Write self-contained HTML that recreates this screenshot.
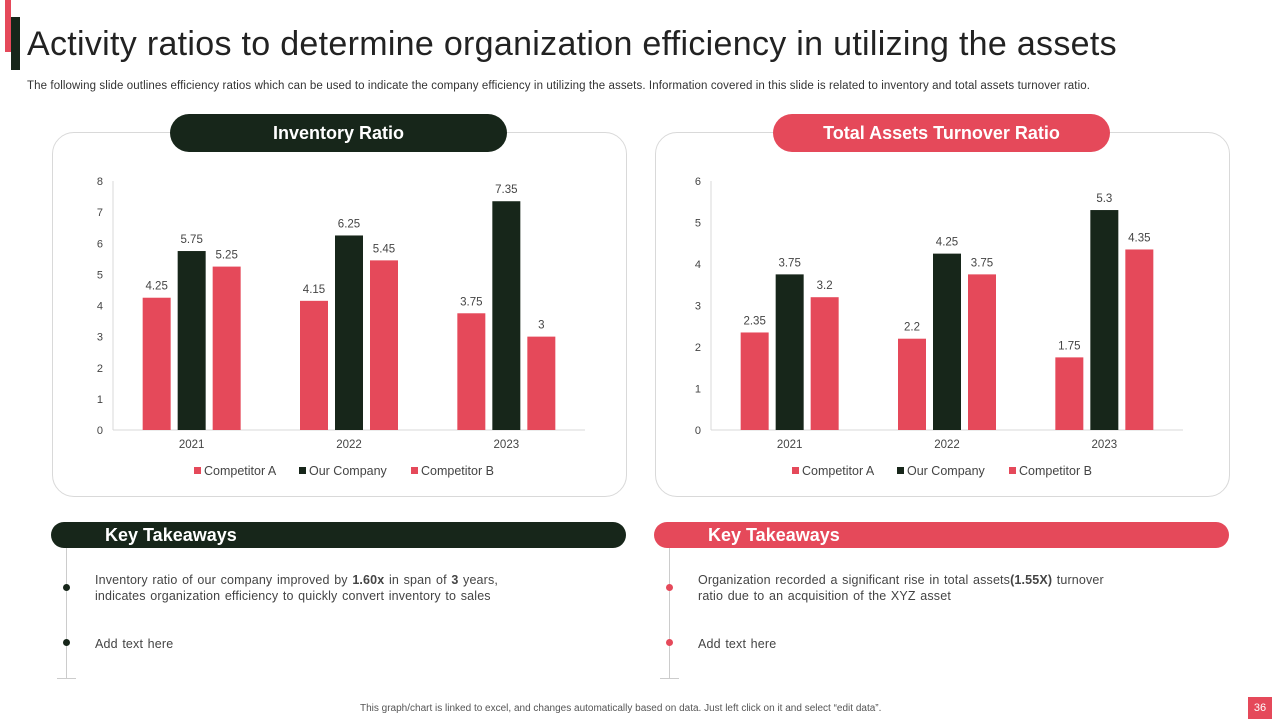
<!DOCTYPE html>
<html><head><meta charset="utf-8">
<style>
body{margin:0;width:1280px;height:720px;background:#fff;position:relative;overflow:hidden;font-family:"Liberation Sans",sans-serif;}
.abs{position:absolute}
.card{position:absolute;border:1px solid #d9d9d9;border-radius:22px;background:#fff}
.pill{position:absolute;height:38px;border-radius:19px;color:#fff;font-weight:bold;font-size:18px;text-align:center;line-height:38px}
.kt{position:absolute;height:26px;border-radius:13px;color:#fff;font-weight:bold;font-size:18px;line-height:26px}
.txt{position:absolute;font-size:12.5px;color:#444;line-height:16px;letter-spacing:0.15px;word-spacing:1px}
.dot{position:absolute;width:7px;height:7px;border-radius:50%}
.vl{position:absolute;width:1px;background:#ccc}
</style></head><body>
<div class="abs" style="left:5px;top:0;width:6px;height:52px;background:#e5495a"></div>
<div class="abs" style="left:11px;top:17px;width:9px;height:53px;background:#17261a"></div>
<div class="abs" style="left:27px;top:25px;font-size:34px;color:#222;white-space:nowrap;letter-spacing:0.3px">Activity ratios to determine organization efficiency in utilizing the assets</div>
<div class="abs" style="left:27px;top:80px;font-size:11.5px;color:#333;white-space:nowrap;letter-spacing:0.1px">The following slide outlines efficiency ratios which can be used to indicate the company efficiency in utilizing the assets. Information covered in this slide is related to inventory and total assets turnover ratio.</div>

<div class="card" style="left:52px;top:132px;width:573px;height:363px"></div>
<div class="card" style="left:655px;top:132px;width:573px;height:363px"></div>
<div class="pill" style="left:170px;top:114px;width:337px;background:#17261a">Inventory Ratio</div>
<div class="pill" style="left:773px;top:114px;width:337px;background:#e5495a">Total Assets Turnover Ratio</div>

<svg id="chart" class="abs" style="left:0;top:0" width="1280" height="500"></svg>

<div class="kt" style="left:51px;top:522px;width:575px;background:#17261a"><span style="margin-left:54px">Key Takeaways</span></div>
<div class="kt" style="left:654px;top:522px;width:575px;background:#e5495a"><span style="margin-left:54px">Key Takeaways</span></div>
<div class="vl" style="left:66px;top:548px;height:130px"></div>
<div class="abs" style="left:57px;top:678px;width:19px;height:1px;background:#ccc"></div>
<div class="vl" style="left:669px;top:548px;height:130px"></div>
<div class="abs" style="left:660px;top:678px;width:19px;height:1px;background:#ccc"></div>
<div class="dot" style="left:63px;top:584px;background:#17261a"></div>
<div class="dot" style="left:63px;top:639px;background:#17261a"></div>
<div class="dot" style="left:666px;top:584px;background:#e5495a"></div>
<div class="dot" style="left:666px;top:639px;background:#e5495a"></div>
<div class="txt" style="left:95px;top:572px">Inventory ratio of our company improved by <b>1.60x</b> in span of <b>3</b> years,<br>indicates organization efficiency to quickly convert inventory to sales</div>
<div class="txt" style="left:95px;top:636px">Add text here</div>
<div class="txt" style="left:698px;top:572px">Organization recorded a significant rise in total assets<b>(1.55X)</b> turnover<br>ratio due to an acquisition of the XYZ asset</div>
<div class="txt" style="left:698px;top:636px">Add text here</div>
<div class="abs" style="left:360px;top:703px;font-size:10px;color:#555;white-space:nowrap">This graph/chart is linked to excel, and changes automatically based on data. Just left click on it and select “edit data”.</div>
<div class="abs" style="left:1248px;top:697px;width:24px;height:22px;background:#e5495a;color:#fff;font-size:11px;text-align:center;line-height:22px">36</div>

<script>
const years=["2021","2022","2023"];
const invA=[4.25,4.15,3.75];
const invOur=[5.75,6.25,7.35];
const invB=[5.25,5.45,3];
const invTicks=[0,1,2,3,4,5,6,7,8];
const tatA=[2.35,2.2,1.75];
const tatOur=[3.75,4.25,5.3];
const tatB=[3.2,3.75,4.35];
const tatTicks=[0,1,2,3,4,5,6];
const seriesNames=["Competitor A","Our Company","Competitor B"];
const RED="#e5495a",DARK="#17261a";
const svg=document.getElementById('chart');
const NS="http://www.w3.org/2000/svg";
function mk(tag,at,txt){const e=document.createElementNS(NS,tag);for(const k in at)e.setAttribute(k,at[k]);if(txt!==undefined)e.textContent=txt;svg.appendChild(e);return e;}
function draw(x0,x1,ticks,series,key){
  const y0=430,y1=181,max=ticks[ticks.length-1];
  const ys=v=>y0-(v/max)*(y0-y1);
  const band=(x1-x0)/years.length;
  const xc=i=>x0+band*(i+0.5);
  ticks.forEach(t=>{const e=mk('text',{x:x0-10,y:ys(t)+4,'text-anchor':'end','font-size':11,fill:'#444'},t);
    
    });
  const ax=mk('line',{x1:x0,y1:y0,x2:x1,y2:y0,stroke:'#d9d9d9'});
  
  
  const yl=mk('line',{x1:x0,y1:y1,x2:x0,y2:y0,stroke:'#d9d9d9'});
  
  
  const cols=[RED,DARK,RED],offs=[-49,-14,21],bw=28;
  years.forEach((yr,i)=>{
    const l=mk('text',{x:xc(i),y:448,'text-anchor':'middle','font-size':11.5,fill:'#444'},yr);
    
    
    series.forEach((s,j)=>{
      const v=s[i];
      const r=mk('rect',{x:xc(i)+offs[j],y:ys(v),width:bw,height:y0-ys(v),fill:cols[j]});
      
      
      const t=mk('text',{x:xc(i)+offs[j]+bw/2,y:ys(v)-8,'text-anchor':'middle','font-size':11.5,fill:'#444'},v);
      
      
    });
  });
  const lx=[(x0+x1)/2-155,(x0+x1)/2-50,(x0+x1)/2+62];
  seriesNames.forEach((n,j)=>{
    const r=mk('rect',{x:lx[j],y:467,width:7,height:7,fill:cols[j]});
    
    
    const t=mk('text',{x:lx[j]+10,y:475,'font-size':12.5,fill:'#444'},n);
    
    
  });
}
draw(113,585,invTicks,[invA,invOur,invB],'inventory');
draw(711,1183,tatTicks,[tatA,tatOur,tatB],'assets');
</script>
</body></html>
